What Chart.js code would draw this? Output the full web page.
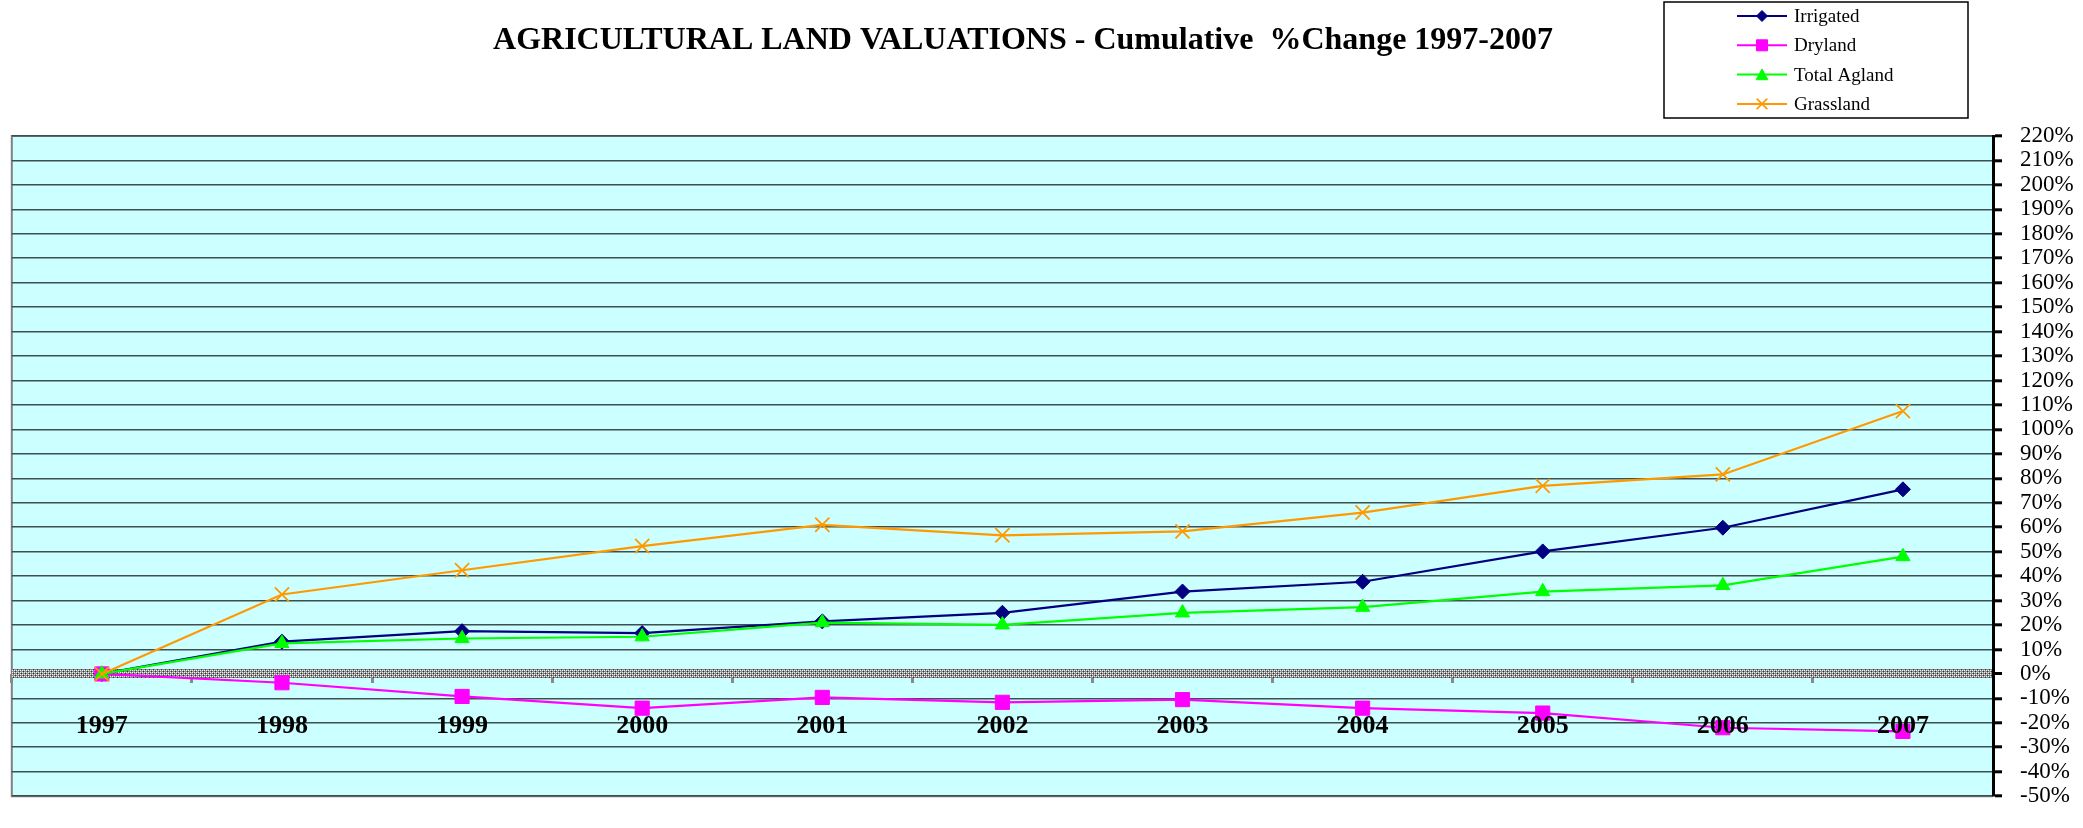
<!DOCTYPE html>
<html>
<head>
<meta charset="utf-8">
<script src="https://cdn.jsdelivr.net/npm/chart.js@4.4.1/dist/chart.umd.min.js"></script>
<style>
  html, body { margin: 0; padding: 0; background: #ffffff; }
  #wrap { position: relative; width: 2083px; height: 828px; }
</style>
</head>
<body>
<div id="wrap"><canvas id="c"></canvas></div>
<script>
// ---- data ----
const years = ['1997','1998','1999','2000','2001','2002','2003','2004','2005','2006','2007'];
const irrigated = [0, 13.2, 17.5, 16.7, 21.5, 25, 33.7, 37.7, 50.1, 59.8, 75.5];
const dryland   = [0, -3.6, -9.2, -14, -9.6, -11.6, -10.5, -14, -16, -22, -23.5];
const agland    = [0, 12.5, 14.5, 15.2, 21, 20.1, 25, 27.3, 33.7, 36.2, 48];
const grassland = [0, 32.5, 42.4, 52.3, 61, 56.7, 58.3, 66, 76.9, 81.6, 107.5];
const seriesNames = ['Irrigated', 'Dryland', 'Total Agland', 'Grassland'];
const titleText = 'AGRICULTURAL LAND VALUATIONS - Cumulative  %Change 1997-2007';
const yMin = -50, yMax = 220, yStep = 10;

// ---- styles ----
const colors = ['#000080', '#FF00FF', '#00FF00', '#FF9900'];
const styles = ['rectRot', 'rect', 'triangle', 'crossRot'];
const radii = [7.5, 10, 8.2, 10];
const legendRadii = [5.5, 7.8, 6.8, 7.5];
const SERIF = "'Liberation Serif', 'DejaVu Serif', serif";

const canvas = document.getElementById('c');
const ctx0 = canvas.getContext('2d');

// checkered pattern for the zero line
const pc = document.createElement('canvas');
pc.width = 4; pc.height = 4;
const pg = pc.getContext('2d');
pg.fillStyle = '#8a8a8a'; pg.fillRect(0, 0, 4, 4);
pg.fillStyle = '#f0f0f0';
pg.fillRect(0, 0, 1, 1); pg.fillRect(2, 2, 1, 1); pg.fillRect(2, 0, 1, 1); pg.fillRect(0, 2, 1, 1);
pg.fillStyle = '#333333';
pg.fillRect(1, 1, 1, 1); pg.fillRect(3, 3, 1, 1);
const zeroPattern = ctx0.createPattern(pc, 'repeat');

const bgPlugin = {
  id: 'bg',
  beforeDraw(chart) {
    const { ctx, chartArea: a } = chart;
    ctx.save();
    ctx.fillStyle = '#CCFFFF';
    ctx.fillRect(a.left, a.top, a.right - a.left, a.bottom - a.top);
    ctx.strokeStyle = '#808080';
    ctx.lineWidth = 2;
    ctx.beginPath();
    ctx.moveTo(a.right, a.top);
    ctx.lineTo(a.left, a.top);
    ctx.lineTo(a.left, a.bottom);
    ctx.lineTo(a.right, a.bottom);
    ctx.stroke();
    ctx.restore();
  }
};

function drawMarker(ctx, style, r, x, y) {
  ctx.beginPath();
  if (style === 'rectRot') {
    ctx.moveTo(x, y - r); ctx.lineTo(x + r, y); ctx.lineTo(x, y + r); ctx.lineTo(x - r, y); ctx.closePath();
    ctx.fill(); ctx.stroke();
  } else if (style === 'rect') {
    const s = r * Math.SQRT1_2;
    ctx.rect(x - s, y - s, 2 * s, 2 * s); ctx.fill(); ctx.stroke();
  } else if (style === 'triangle') {
    const h = r * 0.866;
    ctx.moveTo(x, y - r * 0.75 - 0.5); ctx.lineTo(x + h, y + r * 0.75); ctx.lineTo(x - h, y + r * 0.75); ctx.closePath();
    ctx.fill(); ctx.stroke();
  } else {
    const d = r * Math.SQRT1_2;
    ctx.moveTo(x - d, y - d); ctx.lineTo(x + d, y + d);
    ctx.moveTo(x + d, y - d); ctx.lineTo(x - d, y + d);
    ctx.stroke();
  }
}

const titleLegendPlugin = {
  id: 'titleLegend',
  afterDraw(chart) {
    const ctx = chart.ctx;
    ctx.save();
    // title
    ctx.fillStyle = '#000';
    ctx.font = "bold 32px " + SERIF;
    ctx.textAlign = 'center';
    ctx.textBaseline = 'middle';
    ctx.fillText(titleText, 1023, 41);
    // legend box
    const bx = 1664, by = 2, bw = 304, bh = 116;
    ctx.fillStyle = '#fff';
    ctx.fillRect(bx, by, bw, bh);
    ctx.strokeStyle = '#000';
    ctx.lineWidth = 1.5;
    ctx.strokeRect(bx, by, bw, bh);
    ctx.font = "19px " + SERIF;
    ctx.textAlign = 'left';
    chart.data.datasets.forEach((ds, i) => {
      const y = 16 + i * 29.3;
      ctx.strokeStyle = ds.borderColor;
      ctx.lineWidth = 2;
      ctx.beginPath();
      ctx.moveTo(1737, y);
      ctx.lineTo(1787, y);
      ctx.stroke();
      ctx.fillStyle = ds.pointBackgroundColor;
      ctx.strokeStyle = ds.pointBorderColor;
      ctx.lineWidth = ds.pointStyle === 'crossRot' ? 1.7 : 1;
      drawMarker(ctx, ds.pointStyle, legendRadii[i], 1762, y);
      ctx.fillStyle = '#000';
      ctx.fillText(ds.label, 1794, y + 1);
    });
    ctx.restore();
  }
};

const valueSets = [irrigated, dryland, agland, grassland];
const datasets = valueSets.map((vals, i) => ({
  label: seriesNames[i],
  data: vals,
  borderColor: colors[i],
  backgroundColor: colors[i],
  pointBackgroundColor: colors[i],
  pointBorderColor: colors[i],
  pointStyle: styles[i],
  pointRadius: radii[i],
  pointHoverRadius: radii[i],
  pointBorderWidth: styles[i] === 'crossRot' ? 1.8 : 1,
  borderWidth: 2.2,
  tension: 0,
  fill: false,
  order: 4 - i
}));

new Chart(canvas, {
  type: 'line',
  data: { labels: years, datasets },
  plugins: [bgPlugin, titleLegendPlugin],
  options: {
    responsive: true,
    maintainAspectRatio: false,
    animation: false,
    devicePixelRatio: 1,
    layout: { padding: { left: 9, top: 136, right: 0, bottom: 20 } },
    plugins: { legend: { display: false }, title: { display: false }, tooltip: { enabled: false } },
    scales: {
      x: {
        type: 'category',
        offset: true,
        position: { y: 0 },
        grid: {
          offset: true,
          drawOnChartArea: false,
          drawTicks: true,
          tickLength: 9,
          color: '#8a8a8a',
          lineWidth: 3
        },
        border: { display: false },
        ticks: {
          z: 1,
          color: '#000',
          padding: 28,
          maxRotation: 0,
          autoSkip: false,
          font: { family: SERIF, size: 26, weight: 'bold' }
        }
      },
      y: {
        position: 'right',
        min: yMin,
        max: yMax,
        afterFit(scale) { scale.width = 90; },
        grid: {
          color: (c) => (c.tick && c.tick.value === 0) ? zeroPattern : '#3f4f4f',
          lineWidth: (c) => (c.tick && c.tick.value === 0) ? 9 : 1.6,
          drawTicks: true,
          tickLength: 9,
          tickColor: '#000',
          tickWidth: 3
        },
        border: { display: true, color: '#000', width: 3 },
        ticks: {
          stepSize: yStep,
          autoSkip: false,
          color: '#000',
          padding: 18,
          font: { family: SERIF, size: 23 },
          callback: (v) => v + '%'
        }
      }
    }
  }
});
</script>
</body>
</html>
